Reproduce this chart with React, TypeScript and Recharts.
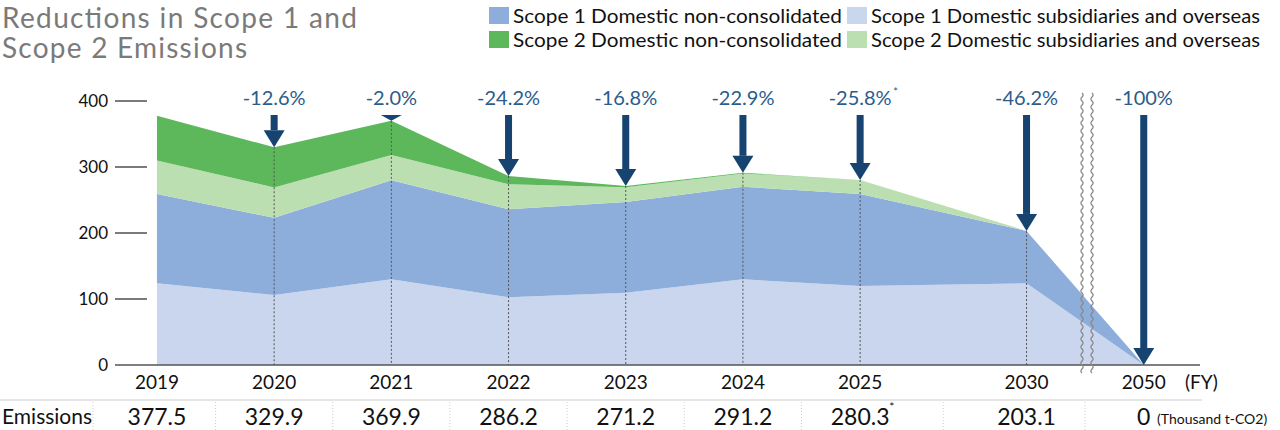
import React from "react";
import { ComposedChart, Area, XAxis, YAxis } from "recharts";

const years = ["2019", "2020", "2021", "2022", "2023", "2024", "2025", "2030", "2050"];
const scope1Subsidiaries = [124, 106, 130, 102.5, 109.6, 129.8, 119.7, 123.7, 0];
const scope1NonConsolidated = [135, 117, 150, 133.5, 137.4, 140.2, 139.3, 79.4, 0];
const scope2Subsidiaries = [51, 46, 38, 38, 22.5, 20.2, 21.3, 0, 0];
const scope2NonConsolidated = [67.5, 60.9, 51.9, 12.2, 1.7, 1.0, 0, 0, 0];
const emissions = ["377.5", "329.9", "369.9", "286.2", "271.2", "291.2", "280.3", "203.1", "0"];
const reductions = ["", "-12.6%", "-2.0%", "-24.2%", "-16.8%", "-22.9%", "-25.8%", "-46.2%", "-100%"];
const footnoted = ["2025"];
const yTicks = [0, 100, 200, 300, 400];

const series = [
  { key: "s1sub", name: "Scope 1 Domestic subsidiaries and overseas", color: "#c9d6ee", values: scope1Subsidiaries },
  { key: "s1nc", name: "Scope 1 Domestic non-consolidated", color: "#8daedb", values: scope1NonConsolidated },
  { key: "s2sub", name: "Scope 2 Domestic subsidiaries and overseas", color: "#bcdfb1", values: scope2Subsidiaries },
  { key: "s2nc", name: "Scope 2 Domestic non-consolidated", color: "#5db85b", values: scope2NonConsolidated },
];

// layout: the axis is broken between 2030 and 2050
const slotOf = (year: string) => {
  const y = Number(year);
  if (y <= 2025) return y - 2019;
  if (y === 2030) return 7.42;
  return 8.42;
};

const data = years.map((year, i) => {
  const row: any = { year, slot: slotOf(year) };
  series.forEach((s) => (row[s.key] = s.values[i]));
  return row;
});

const FONT = "Lato, 'Noto Sans', sans-serif";
const NAVY = "#16436f";
const LABEL_BLUE = "#2c5c8b";
const PLOT_TOP = 101;
const PLOT_BOTTOM = 365;
const ARROW_TOP = 115;
const X0 = 157;
const STEP = 117.17;

const indexOfSlot = (slot: number) => data.findIndex((d) => Math.abs(d.slot - slot) < 1e-6);

const renderArrow = (props: any) => {
  const { cx, cy, index } = props;
  if (index === 0 || cx == null || cy == null) return <g key={`arrow-${index}`} />;
  const headH = Math.min(17, cy - ARROW_TOP);
  const headTop = cy - headH;
  const noted = footnoted.includes(years[index]);
  return (
    <g key={`arrow-${index}`}>
      {index < years.length - 1 && (
        <line x1={cx} x2={cx} y1={cy} y2={PLOT_BOTTOM} stroke="#555" strokeWidth={1} strokeDasharray="2 2" />
      )}
      {headTop > ARROW_TOP && (
        <rect x={cx - 3.5} y={ARROW_TOP} width={7} height={headTop - ARROW_TOP} fill={NAVY} />
      )}
      <polygon points={`${cx - 10.5},${headTop} ${cx + 10.5},${headTop} ${cx},${cy}`} fill={NAVY} />
      <text x={cx} y={105} textAnchor="middle" fontSize={20} fill={LABEL_BLUE} fontFamily={FONT}>
        {reductions[index]}
      </text>
      {noted && (
        <text x={cx + 33} y={96} fontSize={11} fill={LABEL_BLUE} fontFamily={FONT}>
          *
        </text>
      )}
    </g>
  );
};

const XTick = (props: any) => {
  const { x, payload } = props;
  const i = indexOfSlot(payload.value);
  if (i < 0) return null;
  const noted = footnoted.includes(years[i]);
  return (
    <g>
      <text x={x} y={389} textAnchor="middle" fontSize={19} fill="#111" fontFamily={FONT}>
        {years[i]}
      </text>
      <text x={x} y={425} textAnchor="middle" fontSize={23} fill="#111" fontFamily={FONT}>
        {emissions[i]}
      </text>
      {noted && (
        <text x={x + 29} y={411} fontSize={12} fill="#111" fontFamily={FONT}>
          *
        </text>
      )}
    </g>
  );
};

const YTick = (props: any) => {
  const { y, payload } = props;
  return (
    <g>
      <text x={108} y={y + 6} textAnchor="end" fontSize={17} fill="#111" fontFamily={FONT}>
        {payload.value}
      </text>
      {payload.value !== 0 && <line x1={115} x2={147} y1={y} y2={y} stroke="#333" strokeWidth={1.3} />}
    </g>
  );
};

const wavy = (x: number, y0: number, y1: number) => {
  let d = `M${x},${y0}`;
  let side = 1;
  for (let y = y0; y < y1; y += 4) {
    d += ` Q${x + 2.2 * side},${y + 2} ${x},${y + 4}`;
    side = -side;
  }
  return d;
};

const legendItems = [
  { s: series[1], x: 489, y: 7 },
  { s: series[0], x: 847, y: 7 },
  { s: series[3], x: 489, y: 31 },
  { s: series[2], x: 847, y: 31 },
];

const separators = [93, ...years.slice(1).map((_, i) => X0 + ((slotOf(years[i]) + slotOf(years[i + 1])) / 2) * STEP)];

export default function App() {
  return (
    <div style={{ position: "absolute", left: 0, top: 0, width: 1280, height: 430, background: "#fff" }}>
      <ComposedChart
        width={1280}
        height={430}
        data={data}
        margin={{ top: PLOT_TOP, right: 80, left: 55, bottom: 0 }}
      >
        <XAxis
          type="number"
          dataKey="slot"
          domain={[-0.358, 8.9]}
          ticks={data.map((d) => d.slot)}
          interval={0}
          height={65}
          tickLine={false}
          axisLine={{ stroke: "#555", strokeWidth: 1.6 }}
          tick={<XTick />}
        />
        <YAxis
          type="number"
          domain={[0, 400]}
          ticks={yTicks}
          width={60}
          axisLine={false}
          tickLine={false}
          tick={<YTick />}
        />
        {series.map((s, i) => (
          <Area
            key={s.key}
            type="linear"
            dataKey={s.key}
            name={s.name}
            stackId="1"
            stroke="none"
            fill={s.color}
            fillOpacity={1}
            isAnimationActive={false}
            activeDot={false}
            dot={i === series.length - 1 ? renderArrow : false}
          />
        ))}
      </ComposedChart>
      <svg
        width={1280}
        height={430}
        style={{ position: "absolute", left: 0, top: 0, pointerEvents: "none" }}
        fontFamily={FONT}
      >
        <text x={2} y={28} fontSize={28} fill="#7a7a7a" textLength={355} lengthAdjust="spacing">
          Reductions in Scope 1 and
        </text>
        <text x={2} y={58} fontSize={28} fill="#7a7a7a" textLength={245} lengthAdjust="spacing">
          Scope 2 Emissions
        </text>
        {legendItems.map((it) => (
          <g key={it.s.key}>
            <rect x={it.x} y={it.y} width={20} height={17} fill={it.s.color} />
            <text
              x={it.x + 24}
              y={it.y + 16}
              fontSize={20}
              fill="#111"
              textLength={it.x < 800 ? 329 : 389}
              lengthAdjust="spacingAndGlyphs"
            >
              {it.s.name}
            </text>
          </g>
        ))}
        <path d={wavy(1082, 93, 373)} fill="none" stroke="#888" strokeWidth={1.3} />
        <path d={wavy(1092, 93, 373)} fill="none" stroke="#888" strokeWidth={1.3} />
        <text x={1185} y={389} fontSize={19} fill="#111">
          (FY)
        </text>
        <line x1={0} x2={1202} y1={400} y2={400} stroke="#ddd" strokeWidth={1.5} />
        {separators.map((x, i) => (
          <line key={i} x1={x} x2={x} y1={402} y2={430} stroke="#ccc" strokeWidth={1} strokeDasharray="1 2" />
        ))}
        <text x={2} y={424} fontSize={21} fill="#111">
          Emissions
        </text>
        <text x={1157} y={424} fontSize={14} fill="#111">
          (Thousand t-CO2)
        </text>
      </svg>
    </div>
  );
}
